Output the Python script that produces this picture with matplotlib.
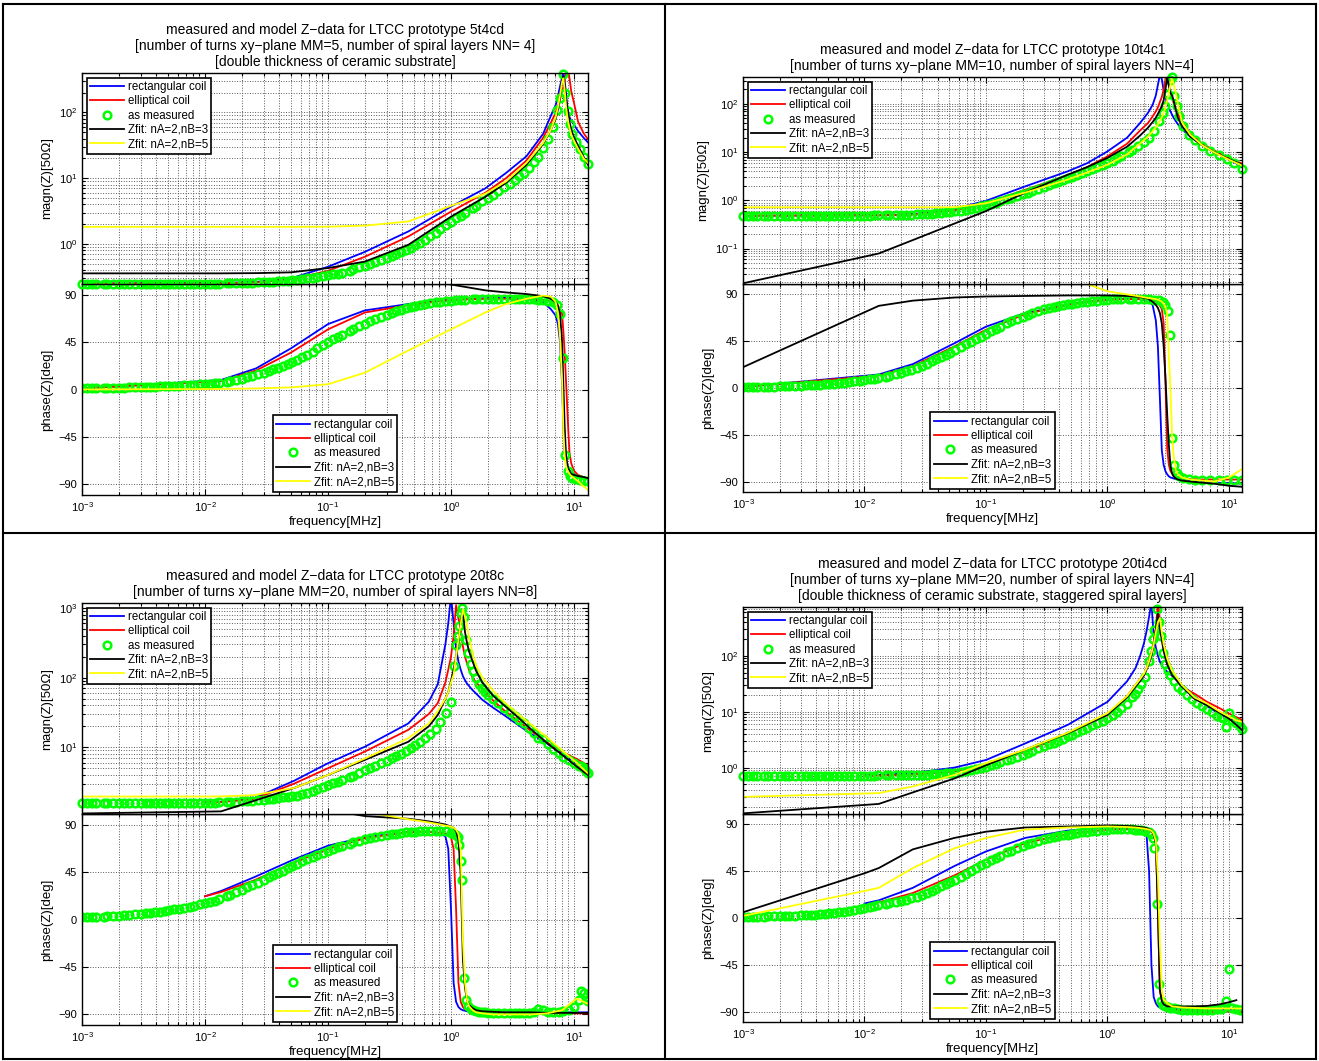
import numpy as np
import matplotlib
matplotlib.use('Agg')
import matplotlib.pyplot as plt
from matplotlib.lines import Line2D
from matplotlib.ticker import LogLocator, NullFormatter

plt.rcParams['font.family'] = ['Liberation Sans', 'DejaVu Sans']
nan = float('nan')

# ---------------- data ----------------
LABELS = ['rectangular coil', 'elliptical coil', 'as measured',
          'Zfit: nA=2,nB=3', 'Zfit: nA=2,nB=5']

# sweep points of the measurement below 1 MHz (shared by all prototypes)
LOW_F = [0.001, 0.0011, 0.0012, 0.0013, 0.0015, 0.0016, 0.0018, 0.002, 0.0022, 0.0024, 0.0027, 0.003,
         0.0033, 0.0036, 0.0039, 0.0043, 0.0047, 0.0051, 0.0056, 0.0062, 0.0068, 0.0075, 0.0082, 0.0091,
         0.01, 0.011, 0.012, 0.013, 0.015, 0.016, 0.018, 0.02, 0.022, 0.024, 0.027, 0.03,
         0.033, 0.036, 0.039, 0.043, 0.047, 0.051, 0.056, 0.062, 0.068, 0.075, 0.082, 0.091,
         0.1, 0.11, 0.12, 0.13, 0.15, 0.16, 0.18, 0.2, 0.22, 0.24, 0.27, 0.3,
         0.33, 0.36, 0.39, 0.43, 0.47, 0.51, 0.56, 0.62, 0.68, 0.75, 0.82, 0.91]

# --- prototype 5t4cd ---
P1_F = [0.001, 0.0135, 0.026, 0.05, 0.1, 0.2, 0.45, 1.0, 1.9, 2.8, 4.1, 5.6, 6.5, 7.1,
        7.4, 7.7, 8.0, 8.2, 8.4, 8.6, 8.8, 9.0, 9.2, 9.5, 10.0, 10.8, 12.0, 13.0]
P1_RECT_MAG = [0.25, 0.255, 0.265, 0.3, 0.45, 0.76, 1.55, 3.7, 7.0, 12, 21.5, 47, 90, 130,
               175, 250, 340, 420, 300, 200, 130, 100, 85, 75, 65, 52, 41, 35]
P1_RECT_PH = [1, 9, 20, 39, 62, 75, 81, 85, 86.5, 87, 86, 83, 76, 70,
              62, 45, 5, -35, -60, -68, -72, -75, -77, -78, -80, -82, -83.5, -84]
P1_ELL_MAG = [0.25, 0.252, 0.26, 0.29, 0.39, 0.64, 1.3, 3.1, 6.0, 10, 18.5, 41, 70, 100,
              125, 160, 200, 240, 300, 370, 420, 420, 330, 210, 140, 72, 48, 39]
P1_ELL_PH = [1, 8, 18, 35, 57, 73, 80, 85, 86, 86, 86, 85, 84, 82,
             80, 75, 72, 55, 35, 10, -15, -40, -60, -70, -77, -81, -83, -85]
P1_FIT3_MAG = [0.357, 0.357, 0.36, 0.37, 0.43, 0.54, 0.97, 2.6, 5.2, 8.5, 16, 33, 55, 80,
               110, 170, 300, 350, 250, 170, 120, 95, 72, 55, 42, 31, 21, 16]
P1_FIT3_PH = [115, 115, 115, 114, 112, 110, 106, 99.5, 94, 92, 90.5, 88.5, 86, 83,
              79, 72, 45, 5, -35, -60, -70, -75, -78, -80, -81, -82, -83, -84]
P1_FIT5_MAG = [1.82, 1.82, 1.82, 1.82, 1.83, 1.9, 2.2, 3.8, 5.8, 8.9, 17, 34, 55, 85,
               120, 180, 290, 330, 220, 130, 90, 70, 58, 46, 37, 28, 20, 17]
P1_FIT5_PH = [0, 0.5, 1, 2, 5, 16, 37, 57, 73, 81, 86, 89, 88, 83,
              73, 50, 10, -40, -62, -72, -76, -78, -80, -82, -84, -87, -92, -95]
P1_MEAS_F = LOW_F + [1.0, 1.1, 1.2, 1.3, 1.5, 1.6, 1.8, 2.0, 2.2, 2.4, 2.7, 3.0, 3.3, 3.6, 3.9, 4.3,
                     4.7, 5.1, 5.6, 6.2, 6.8, 7.3, 7.7, 8.1, 8.5, 8.9, 9.3, 9.7, 10.4, 11.2, 12.1, 13.0]
P1_MEAS_MAG = [0.246, 0.246, 0.246, 0.246, 0.246, 0.246, 0.246, 0.246, 0.246, 0.246, 0.246, 0.246,
               0.246, 0.246, 0.246, 0.246, 0.246, 0.247, 0.247, 0.247, 0.247, 0.248, 0.248, 0.248,
               0.249, 0.249, 0.25, 0.25, 0.252, 0.253, 0.254, 0.255, 0.257, 0.259, 0.261, 0.263,
               0.266, 0.268, 0.271, 0.274, 0.278, 0.282, 0.287, 0.293, 0.3, 0.307, 0.315, 0.324,
               0.333, 0.344, 0.355, 0.367, 0.39, 0.41, 0.44, 0.47, 0.5, 0.53, 0.57, 0.61,
               0.66, 0.7, 0.75, 0.81, 0.88, 0.95, 1.05, 1.16, 1.3, 1.48, 1.7, 1.95,
               2.19, 2.45, 2.7, 3.0, 3.5, 3.8, 4.5, 5.0, 5.6, 6.3, 7.3, 8.3, 9.5, 10.8, 12.2, 14.5,
               17.5, 21, 29, 40, 60, 110, 165, 380, 200, 105, 66, 47, 35, 28, 21, 16.5]
P1_MEAS_PH = [1, 1.05, 1.1, 1.2, 1.3, 1.4, 1.5, 1.65, 1.8, 1.9, 2, 2.15,
              2.3, 2.5, 2.7, 2.9, 3.1, 3.3, 3.5, 3.75, 4, 4.25, 4.5, 4.75,
              5, 5.5, 6, 6.5, 7.5, 8.2, 9.3, 10.3, 11.5, 12.8, 14.5, 16,
              17.5, 19, 20.5, 22, 24, 26, 28, 30.5, 33, 36, 39, 42,
              45, 47.5, 50, 52, 55, 57, 60, 62.5, 65, 67, 69, 71,
              72.5, 74, 75.5, 77, 78, 79, 80, 81, 82, 82.5, 83, 83.5,
              84, 84.5, 85, 85, 85.5, 85.5, 86, 86, 86, 86, 86, 86, 86, 86, 86, 85.8,
              85.5, 85.2, 85, 84, 82.5, 80, 72, 30, -62, -77, -82, -84, -85, -86, -86.5, -87]

# --- prototype 10t4c1 ---
P2_F = [0.001, 0.0131, 0.025, 0.055, 0.1, 0.21, 0.47, 0.68, 1.0, 1.45, 1.85, 2.15, 2.35, 2.5,
        2.6, 2.7, 2.8, 2.9, 3.0, 3.1, 3.2, 3.3, 3.4, 3.5, 3.65, 3.8, 4.1, 4.8, 6.0, 7.5, 10.0, 12.8]
P2_RECT_MAG = [0.48, 0.49, 0.52, 0.67, 0.98, 1.95, 4.0, 5.9, 10.4, 20, 40, 65, 95, 150,
               250, 400, 330, 190, 140, 105, 85, 70, 60, 52, 44, 38, 30, 21, 14, 10.5, 7.1, 5.0]
P2_RECT_PH = [1, 13, 23, 43, 59, 72, 80, 83, 85, 86, 85.5, 84, 80, 65,
              40, -10, -60, -74, -80, -83, -85, -86, -86.5, -87, -87.5, -88, -88.5, -89, -90, -91, -91.5, -92]
P2_ELL_MAG = [0.48, 0.49, 0.51, 0.62, 0.87, 1.66, 3.3, 4.9, 8.2, 15, 28, 40, 55, 70,
              85, 110, 140, 200, 330, 380, 250, 180, 140, 105, 80, 62, 45, 24, 15, 11, 7.5, 5.8]
P2_ELL_PH = [1, 12, 21, 40, 56, 71, 80, 83, 85, 85.5, 85.5, 85, 84, 83,
             82, 79, 76, 62, 5, -58, -74, -80, -82, -84, -85, -86, -87, -87.5, -88, -88, -88, -88]
P2_FIT3_MAG = [0.019, 0.079, 0.15, 0.33, 0.6, 1.45, 3.4, 4.9, 7.6, 13, 22, 32, 42, 52,
               62, 75, 90, 120, 200, 350, 240, 170, 150, 120, 75, 52, 35, 21, 14, 10, 7.2, 5.5]
P2_FIT3_PH = [20, 79, 84, 87, 88, 88.5, 89, 89, 89, 88.5, 87.5, 86, 83, 80,
              77, 72, 62, 40, 10, -25, -55, -75, -82, -85, -87, -88, -89, -90, -91, -92, -94, -95]
P2_FIT5_MAG = [0.72, 0.72, 0.72, 0.72, 0.87, 1.45, 2.7, 3.8, 5.5, 9, 15, 21, 27, 33,
               38, 45, 53, 65, 85, 120, 170, 250, 340, 260, 170, 100, 42, 23, 14, 10, 7, 5.3]
P2_FIT5_PH = [170, 165, 160, 150, 140, 125, 108, 100, 93, 90, 88, 86.5, 86, 85.5,
              85, 84, 83, 81, 78, 72, 30, 0, -45, -65, -79, -83, -86, -88, -89, -90, -86, -78]
P2_MEAS_F = LOW_F + [1.0, 1.1, 1.2, 1.3, 1.5, 1.6, 1.8, 2.0, 2.2, 2.4, 2.65, 2.85, 2.97, 3.14,
                     3.27, 3.41, 3.54, 3.72, 3.9, 4.2, 4.7, 5.3, 6.0, 7.0, 8.2, 9.6, 11.0, 12.8]
P2_MEAS_MAG = [0.48, 0.48, 0.48, 0.48, 0.48, 0.48, 0.48, 0.48, 0.48, 0.48, 0.48, 0.48,
               0.48, 0.48, 0.48, 0.48, 0.48, 0.48, 0.48, 0.48, 0.481, 0.481, 0.482, 0.483,
               0.484, 0.485, 0.486, 0.487, 0.49, 0.492, 0.494, 0.497, 0.5, 0.504, 0.51, 0.517,
               0.525, 0.532, 0.54, 0.552, 0.565, 0.578, 0.595, 0.615, 0.64, 0.67, 0.71, 0.75,
               0.8, 0.85, 0.9, 0.95, 1.06, 1.12, 1.22, 1.33, 1.45, 1.57, 1.75, 1.92,
               2.1, 2.27, 2.45, 2.68, 2.9, 3.12, 3.4, 3.75, 4.1, 4.5, 4.9, 5.4,
               5.9, 6.6, 7.5, 8.3, 10, 11, 13.5, 16, 20, 28, 45, 65, 90, 160,
               320, 363, 144, 89, 56, 35, 23, 17.5, 13.5, 10.8, 8.8, 7.2, 6.0, 4.5]
P2_MEAS_PH = [1, 1, 1, 1.1, 1.2, 1.3, 1.4, 1.55, 1.7, 1.85, 2.1, 2.3,
              2.5, 2.75, 3, 3.3, 3.6, 3.9, 4.3, 4.75, 5.2, 5.75, 6.3, 6.9,
              7.5, 8.2, 9, 9.7, 11, 12, 13.5, 14.8, 16, 17.5, 19.5, 21.5,
              23.5, 25.5, 27.5, 29.8, 32, 34, 36.5, 39.5, 42, 44.5, 47, 49.5,
              52, 54.5, 57, 59, 62.5, 64, 66.5, 68.5, 70.5, 72, 74, 75.5,
              77, 78, 79, 80, 80.5, 81.2, 82, 82.5, 83, 83.5, 84, 84.5,
              85, 85.2, 85.5, 85.5, 85.5, 85.5, 85.5, 85.5, 85.3, 85, 84.5, 83, 80, 74,
              51, -48, -74, -82, -85, -87, -87.5, -88, -88, -88, -88, -88, -88, -88]

# --- prototype 20t8c ---
P3_F = [0.001, 0.01, 0.0135, 0.025, 0.053, 0.1, 0.2, 0.45, 0.66, 0.78, 0.9, 0.95, 1.0, 1.05,
        1.1, 1.15, 1.2, 1.25, 1.3, 1.35, 1.4, 1.5, 1.6, 1.8, 2.2, 2.7, 3.5, 4.5, 6.0, 8.0, 10.5, 13.0]
P3_RECT_MAG = [nan, 1.6, 1.65, 1.85, 3.3, 5.9, 10.2, 22, 45, 80, 300, 600, 1500, 600,
               260, 170, 130, 105, 92, 82, 76, 66, 59, 48, 37, 29, 21, 15.5, 11.4, 8, 5.8, 4.4]
P3_RECT_PH = [nan, 22, 27, 40, 57, 70, 78, 83, 83, 82, 79, 67, 10, -60,
              -78, -83, -85, -86, -86.5, -87, -87, -87.5, -88, -88, -88, -88, -88, -88, -88, -88, -88, -88]
P3_ELL_MAG = [nan, 1.6, 1.63, 1.8, 3.0, 5.0, 8.7, 17.8, 30, 43, 85, 130, 200, 400,
              1100, 700, 490, 280, 200, 160, 130, 100, 85, 68, 47, 34, 24, 17, 11.8, 8.6, 6.8, 5.5]
P3_ELL_PH = [nan, 22, 26, 37, 54, 67, 77, 83, 83, 82.5, 81.5, 80.5, 78, 67,
             10, -60, -78, -83, -85, -86, -87, -87.5, -88, -88, -88.5, -89, -89, -89, -89, -89, -89, -89]
P3_FIT3_MAG = [1.12, 1.19, 1.2, 1.7, 2.6, 4.0, 6.6, 12, 20, 29, 50, 62, 90, 130,
               200, 330, 650, 900, 450, 315, 240, 170, 125, 85, 55, 40, 27, 18, 11.6, 7.8, 5.3, 4.0]
P3_FIT3_PH = [170, 150, 145, 135, 120, 104, 98, 95.5, 93, 91.5, 90, 89, 88, 87,
              84, 75, 42, -38, -65, -76, -81, -84, -86, -87, -87.5, -88, -88, -88, -88.5, -88.5, -88.5, -88.5]
P3_FIT5_MAG = [1.96, 1.96, 1.97, 2.05, 2.6, 4.0, 6.9, 13.5, 22, 33, 50, 62, 85, 110,
               200, 350, 600, 950, 750, 550, 380, 220, 150, 100, 65, 45, 30, 21, 14, 9, 6, 4.2]
P3_FIT5_PH = [170, 160, 158, 150, 135, 120, 102, 95, 92, 90.5, 89, 88.5, 88, 87,
              85, 81, 65, -20, -60, -76, -82, -86, -88, -89, -90, -90, -90, -90, -89, -86, -75, -80]
P3_MEAS_F = LOW_F + [1.0, 1.05, 1.09, 1.135, 1.17, 1.2, 1.22, 1.27, 1.33, 1.38,
                     1.46, 1.52, 1.6, 1.7, 1.8, 1.9, 2.0, 2.2, 2.4, 2.7,
                     3.0, 3.3, 3.6, 3.9, 4.3, 4.7, 5.1, 5.6, 6.2, 6.8,
                     7.5, 8.2, 9.1, 10.0, 11.0, 11.35, 12.0, 12.5, 13.0]
P3_MEAS_MAG = [1.56, 1.56, 1.56, 1.56, 1.56, 1.56, 1.56, 1.56, 1.56, 1.56, 1.56, 1.56,
               1.56, 1.56, 1.56, 1.56, 1.56, 1.56, 1.565, 1.567, 1.57, 1.575, 1.58, 1.585,
               1.59, 1.595, 1.6, 1.61, 1.62, 1.63, 1.65, 1.67, 1.69, 1.71, 1.74, 1.77,
               1.8, 1.83, 1.86, 1.9, 1.93, 1.97, 2.0, 2.1, 2.2, 2.35, 2.5, 2.7,
               2.9, 3.05, 3.2, 3.35, 3.7, 3.9, 4.3, 4.65, 5.0, 5.4, 5.9, 6.45,
               7.0, 7.5, 8.1, 8.9, 9.7, 10.6, 11.8, 13.5, 15.5, 18.5, 23, 31,
               45, 145, 295, 400, 550, 850, 1000, 740, 350, 225,
               158, 125, 98, 82, 70, 62, 56, 49, 43, 37,
               32, 28, 25, 22, 19, 16, 13.5, 13.2, 11.2, 9.5,
               8.4, 7.3, 6.5, 5.9, 5.4, 5.3, 5.1, 4.6, 4.2]
P3_MEAS_PH = [2, 2.15, 2.3, 2.5, 2.8, 3, 3.3, 3.65, 4, 4.4, 4.8, 5.3,
              5.8, 6.3, 6.8, 7.4, 8, 8.7, 9.5, 10.4, 11.3, 12.2, 13.2, 14.3,
              15.5, 16.8, 18, 19.3, 22, 23.3, 26, 28.3, 30.5, 32.5, 35, 37.5,
              40, 42, 44, 46.3, 48.5, 50.5, 53, 55, 57, 59, 61, 63,
              65, 66.8, 68.5, 70, 72, 73, 74.5, 76, 77, 78, 79, 80,
              81, 81.5, 82, 82.5, 83, 83.3, 83.5, 83.8, 84, 84, 84, 83.5,
              82, 81, 80, 78, 71, 55, 37, -55, -76, -82,
              -85, -86, -87, -87.5, -88, -88, -88.5, -88.5, -89, -89,
              -89, -89, -89, -89, -89, -88, -85, -86, -88, -88,
              -87.5, -87, -86, -83, -76, -68, -70, -73, -77]

# --- prototype 20ti4cd ---
P4_F = [0.001, 0.01, 0.0131, 0.025, 0.055, 0.1, 0.21, 0.47, 1.0, 1.45, 1.7, 1.85, 2.0, 2.1,
        2.2, 2.3, 2.4, 2.5, 2.6, 2.7, 2.8, 2.9, 3.1, 3.4, 4.1, 5.2, 6.6, 8.4, 10.0, 11.5, 12.8]
P4_RECT_MAG = [nan, 0.73, 0.74, 0.8, 1.0, 1.37, 2.7, 5.8, 15, 35, 60, 97, 170, 280,
               500, 900, 230, 140, 100, 78, 68, 60, 52, 44, 30, 19, 12.5, 9.0, 7.6, 6.6, 5.8]
P4_RECT_PH = [nan, 14, 17, 29, 50, 64, 77, 84, 87, 86.5, 86, 85, 84, 79,
              45, -45, -76, -82, -85, -86, -87, -87, -87.5, -87.5, -88, -88, -88, -88, -88, -88, -88]
P4_ELL_MAG = [nan, 0.72, 0.72, 0.75, 0.85, 1.15, 1.9, 4.0, 8.8, 19, 30, 38, 45, 60,
              85, 115, 180, 300, 900, 450, 230, 160, 90, 55, 28, 21, 15, 11.5, 9.3, 8.0, 7.1]
P4_ELL_PH = [nan, 12, 15, 24, 41, 56, 72, 81, 85, 85.5, 85.5, 85, 84.5, 84,
             83.5, 83, 82, 77, 5, -70, -79, -83, -86, -88, -89, -89.5, -90, -90, -90, -90, -90]
P4_FIT3_MAG = [0.152, 0.215, 0.224, 0.36, 0.64, 1.1, 2.1, 4.1, 8.8, 18, 28, 35, 45, 57,
               75, 100, 150, 300, 570, 300, 190, 120, 70, 45, 28, 17, 13, 9.5, 7.5, 5.8, 4.7]
P4_FIT3_PH = [5.5, 43, 48, 66, 77, 83, 87, 88, 89, 88.5, 88, 87.5, 87, 86.5,
              85.5, 84, 80, 72, 8, -69, -80, -83, -85, -85, -85, -85, -84.5, -83, -81, -79, nan]
P4_FIT5_MAG = [0.30, 0.344, 0.35, 0.46, 0.74, 1.2, 2.1, 4.2, 9.4, 19, 30, 38, 48, 60,
               80, 110, 160, 260, 400, 470, 260, 160, 90, 55, 30, 18, 14, 10, 8.2, 7.0, 6.6]
P4_FIT5_PH = [2, 26, 29, 48, 67, 77, 85, 87, 88, 87.5, 87, 86.5, 86, 85.5,
              85, 84, 81, 74, 40, -25, -69, -78, -82, -85, -86, -86.5, -87, -87, -87, -87, -87]
P4_MEAS_F = LOW_F + [1.0, 1.1, 1.2, 1.3, 1.45, 1.6, 1.7, 1.8, 1.9, 2.05,
                     2.2, 2.3, 2.38, 2.43, 2.55, 2.64, 2.74, 2.86, 3.0, 3.15,
                     3.3, 3.55, 3.8, 4.1, 4.5, 5.0, 5.5, 6.0, 6.6, 7.3,
                     8.0, 8.6, 9.0, 9.46, 10.0, 10.66, 11.5, 12.3, 12.8]
P4_MEAS_MAG = [0.72, 0.72, 0.72, 0.72, 0.72, 0.72, 0.72, 0.72, 0.72, 0.72, 0.72, 0.72,
               0.72, 0.72, 0.72, 0.72, 0.72, 0.72, 0.72, 0.72, 0.72, 0.72, 0.72, 0.72,
               0.72, 0.721, 0.722, 0.723, 0.725, 0.726, 0.728, 0.73, 0.733, 0.736, 0.74, 0.745,
               0.75, 0.757, 0.765, 0.775, 0.785, 0.796, 0.81, 0.83, 0.86, 0.89, 0.93, 0.98,
               1.04, 1.1, 1.17, 1.24, 1.36, 1.43, 1.56, 1.7, 1.85, 2.0, 2.2, 2.4,
               2.6, 2.8, 3.0, 3.3, 3.6, 3.9, 4.3, 4.7, 5.2, 5.7, 6.3, 6.9,
               7.6, 8.6, 10, 11.5, 14, 18, 21, 25, 31, 42,
               80, 120, 200, 290, 690, 400, 230, 112, 70, 55,
               45, 35, 28, 24, 20, 17, 14.5, 12.8, 11, 9.8,
               8.5, 7.9, 7.8, 5.4, 9.5, 7.1, 6.2, 5.5, 5.0]
P4_MEAS_PH = [1, 1.05, 1.1, 1.2, 1.3, 1.45, 1.6, 1.75, 1.9, 2.1, 2.3, 2.55,
              2.8, 3.05, 3.3, 3.65, 4, 4.4, 4.8, 5.5, 6.2, 7, 7.8, 8.7,
              9.6, 10.5, 11.5, 12.2, 13.5, 14.2, 15.5, 16.5, 17.5, 18.8, 20.5, 22.3,
              24, 26, 28, 30.3, 32.5, 34.5, 37, 39.5, 42, 45, 48, 50.5,
              53, 55.5, 58, 60, 63, 64.5, 67, 69, 71, 72.5, 74.5, 76,
              77, 78, 79, 79.5, 80, 80.8, 81.5, 82.3, 83, 83.5, 84, 84.5,
              85, 85.2, 85.5, 85.5, 85.5, 85.3, 85, 85, 84.5, 84,
              83, 81, 77, 67, 13, -63, -80, -84, -85, -86,
              -86.5, -87, -87.5, -88, -88, -88, -88, -88, -88, -88,
              -87.5, -87.5, -87, -80, -49, -87, -87.5, -88, -88]

TITLES = [
    'measured and model Z\u2212data for LTCC prototype 5t4cd\n'
    '[number of turns xy\u2212plane MM=5, number of spiral layers NN= 4]\n'
    '[double thickness of ceramic substrate]',
    'measured and model Z\u2212data for LTCC prototype 10t4c1\n'
    '[number of turns xy\u2212plane MM=10, number of spiral layers NN=4]',
    'measured and model Z\u2212data for LTCC prototype 20t8c\n'
    '[number of turns xy\u2212plane MM=20, number of spiral layers NN=8]',
    'measured and model Z\u2212data for LTCC prototype 20ti4cd\n'
    '[number of turns xy\u2212plane MM=20, number of spiral layers NN=4]\n'
    '[double thickness of ceramic substrate, staggered spiral layers]',
]

# ---------------- drawing ----------------
W, H = 1319, 1061
COLORS = ['#0000ff', '#ff0000', '#00ff00', '#000000', '#ffff00']

fig = plt.figure(figsize=(W / 100, H / 100), dpi=100)


def box(left, top, right, bottom):
    return [left / W, 1 - bottom / H, (right - left) / W, (bottom - top) / H]


def style_axes(ax, xmax):
    ax.set_xscale('log')
    ax.set_xlim(1e-3, xmax)
    ax.xaxis.set_major_locator(LogLocator(base=10, numticks=12))
    ax.xaxis.set_minor_locator(LogLocator(base=10, subs=np.arange(2, 10), numticks=12))
    ax.xaxis.set_minor_formatter(NullFormatter())
    ax.tick_params(which='both', direction='in', top=True, right=True, labelsize=8, width=0.8)
    ax.tick_params(which='major', length=4)
    ax.tick_params(which='minor', length=2)
    for s in ax.spines.values():
        s.set_linewidth(1.0)
    ax.grid(True, which='major', linestyle=':', color='0.35', linewidth=0.7)
    ax.grid(True, which='minor', axis='x', linestyle=':', color='0.35', linewidth=0.7)


def add_legend(ax, handles, loc, pad):
    leg = ax.legend(handles, LABELS, loc=loc, fontsize=8.3, frameon=True, fancybox=False,
                    edgecolor='k', framealpha=1, borderpad=0.3, labelspacing=0.2,
                    handlelength=2.9, handletextpad=0.35, borderaxespad=pad, numpoints=1)
    leg.get_frame().set_linewidth(1.2)


def draw_panel(mag_box, ph_box, title, xmax, mag_lim, model_f, models, meas_f, meas_mag, meas_ph):
    ax_ph = fig.add_axes(box(*ph_box))
    ax_mag = fig.add_axes(box(*mag_box))
    style_axes(ax_ph, xmax)
    style_axes(ax_mag, xmax)

    ax_mag.set_yscale('log')
    ax_mag.set_ylim(*mag_lim)
    ax_mag.yaxis.set_minor_formatter(NullFormatter())
    ax_mag.grid(True, which='minor', axis='y', linestyle=':', color='0.35', linewidth=0.7)
    ax_mag.tick_params(labelbottom=False)

    ax_ph.set_ylim(-100, 100)
    ax_ph.set_yticks([-90, -45, 0, 45, 90])

    h_mag, h_ph = [], []
    for k, (mag, ph) in enumerate(models):
        c = COLORS[k if k < 2 else k + 1]
        if k == 2:
            h_mag.append(ax_mag.plot(meas_f, meas_mag, 'o', mfc='none', mec=COLORS[2],
                                     ms=5.5, mew=1.8, clip_on=False)[0])
            h_ph.append(ax_ph.plot(meas_f, meas_ph, 'o', mfc='none', mec=COLORS[2],
                                   ms=5.5, mew=1.8)[0])
        h_mag.append(ax_mag.plot(model_f, mag, color=c, lw=1.3)[0])
        h_ph.append(ax_ph.plot(model_f, ph, color=c, lw=1.3)[0])
    add_legend(ax_mag, h_mag, 'upper left', 0.4)
    add_legend(ax_ph, h_ph, 'lower center', 0.3)

    ax_mag.set_title(title, fontsize=10, pad=5, linespacing=1.2)
    ax_mag.set_ylabel('magn(Z)[50\u03a9]', fontsize=9.5)
    ax_ph.set_ylabel('phase(Z)[deg]', fontsize=9.5)
    ax_ph.set_xlabel('frequency[MHz]', fontsize=9.5, labelpad=2)


draw_panel((82, 73, 588, 284), (82, 284, 588, 495), TITLES[0], 13.0, (0.246, 398),
           P1_F, [(P1_RECT_MAG, P1_RECT_PH), (P1_ELL_MAG, P1_ELL_PH),
                  (P1_FIT3_MAG, P1_FIT3_PH), (P1_FIT5_MAG, P1_FIT5_PH)],
           P1_MEAS_F, P1_MEAS_MAG, P1_MEAS_PH)
draw_panel((743, 77, 1242, 284), (743, 284, 1242, 492), TITLES[1], 12.8, (0.0184, 363),
           P2_F, [(P2_RECT_MAG, P2_RECT_PH), (P2_ELL_MAG, P2_ELL_PH),
                  (P2_FIT3_MAG, P2_FIT3_PH), (P2_FIT5_MAG, P2_FIT5_PH)],
           P2_MEAS_F, P2_MEAS_MAG, P2_MEAS_PH)
draw_panel((82, 603, 588, 814), (82, 814, 588, 1025), TITLES[2], 13.0, (1.1, 1180),
           P3_F, [(P3_RECT_MAG, P3_RECT_PH), (P3_ELL_MAG, P3_ELL_PH),
                  (P3_FIT3_MAG, P3_FIT3_PH), (P3_FIT5_MAG, P3_FIT5_PH)],
           P3_MEAS_F, P3_MEAS_MAG, P3_MEAS_PH)
draw_panel((743, 607, 1242, 814), (743, 814, 1242, 1022), TITLES[3], 12.8, (0.148, 745),
           P4_F, [(P4_RECT_MAG, P4_RECT_PH), (P4_ELL_MAG, P4_ELL_PH),
                  (P4_FIT3_MAG, P4_FIT3_PH), (P4_FIT5_MAG, P4_FIT5_PH)],
           P4_MEAS_F, P4_MEAS_MAG, P4_MEAS_PH)

# frame lines around and between the four panels
for x0, y0, x1, y1 in [(3, 4, 1316, 4), (3, 1059, 1316, 1059), (3, 4, 3, 1059),
                       (1316, 4, 1316, 1059), (665, 4, 665, 1059), (3, 533, 1316, 533)]:
    fig.add_artist(Line2D([x0 / W, x1 / W], [1 - y0 / H, 1 - y1 / H],
                          transform=fig.transFigure, color='k', lw=1.5))

fig.savefig('out.png', dpi=100, facecolor='white')
